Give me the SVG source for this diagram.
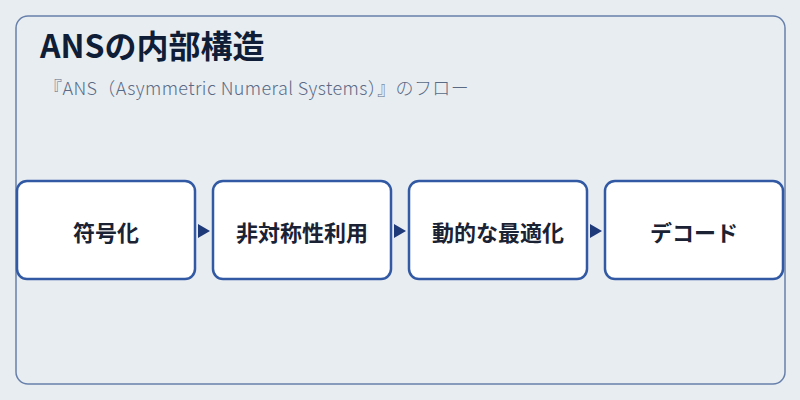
<svg xmlns="http://www.w3.org/2000/svg" width="800" height="400" viewBox="0 0 800 400">
<style>
.bg{fill:#e8edf2}
.frame{fill:#e8edf2;stroke:#6780ab;stroke-width:1.5}
.box{fill:#ffffff;stroke:#3259a3;stroke-width:2.5}
.lbl{font-family:"Noto Sans CJK JP","Noto Sans",sans-serif;font-size:22px;font-weight:bold;fill:#1a2233;text-anchor:middle;dominant-baseline:central}
.title{font-family:"Noto Sans CJK JP","Noto Sans",sans-serif;font-size:32px;font-weight:bold;fill:#0f1e36}
.sub{font-family:"Noto Sans CJK JP","Noto Sans",sans-serif;font-size:18px;font-weight:300;letter-spacing:0.4px;fill:#5a6a85}
.arr{fill:#1f3a78}
</style>
<rect class="bg" x="0" y="0" width="800" height="400"/>
<rect class="frame" x="16" y="16" width="769" height="368" rx="12"/>
<text class="title" x="40" y="58">ANSの内部構造</text>
<text class="sub" x="44" y="95">『ANS（Asymmetric Numeral Systems）』のフロー</text>
<g id="connectors">
<polygon class="arr" points="198,224 210,231 198,238"/>
<polygon class="arr" points="394,224 406,231 394,238"/>
<polygon class="arr" points="590,224 602,231 590,238"/>
</g>
<g id="node1"><rect class="box" x="17" y="181" width="178" height="98" rx="10"/><text class="lbl" x="106" y="231">符号化</text></g>
<g id="node2"><rect class="box" x="213" y="181" width="178" height="98" rx="10"/><text class="lbl" x="302" y="231">非対称性利用</text></g>
<g id="node3"><rect class="box" x="409" y="181" width="178" height="98" rx="10"/><text class="lbl" x="498" y="231">動的な最適化</text></g>
<g id="node4"><rect class="box" x="605" y="181" width="178" height="98" rx="10"/><text class="lbl" x="694" y="231">デコード</text></g>
</svg>
